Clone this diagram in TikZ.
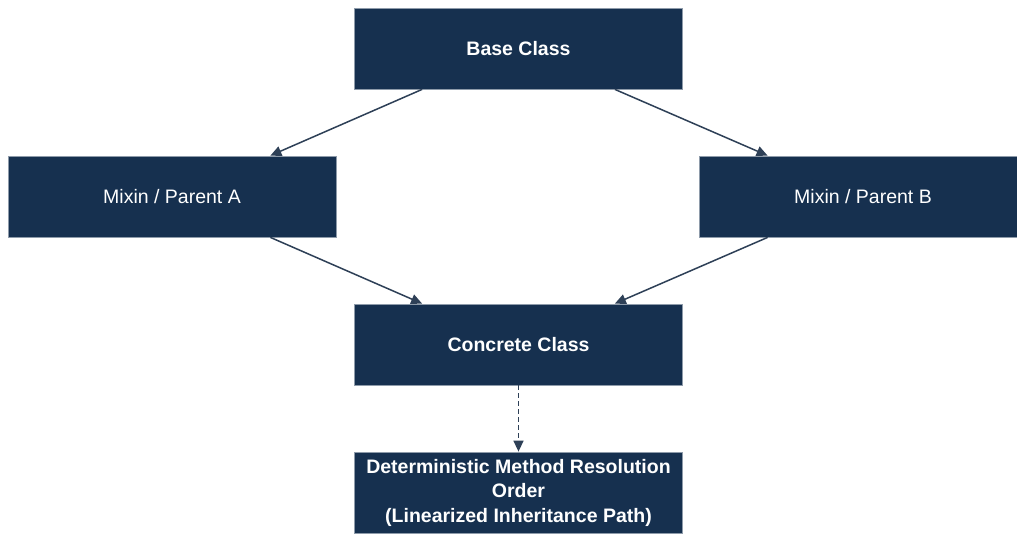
\documentclass[tikz,border=0pt]{standalone}
\usepackage{fontspec}
\setmainfont{Liberation Sans}
\usetikzlibrary{arrows.meta,positioning,calc,shapes.geometric}
\definecolor{navy}{HTML}{16304F}
\definecolor{edgegrey}{HTML}{8E9BAA}
\definecolor{linecol}{HTML}{2E4057}
\tikzstyle{classbox} = [rectangle, minimum width=328pt, minimum height=81pt, inner sep=0pt, text centered, align=center, draw=edgegrey, line width=0.8pt, fill=navy, text=white, font=\fontsize{19.5}{24.5}\selectfont]
\tikzstyle{arrow} = [draw=linecol, line width=1.5pt, -{Triangle[length=11pt,width=10pt]}]
\tikzstyle{dasharrow} = [arrow, dash pattern=on 5pt off 3pt]

\begin{document}
\begin{tikzpicture}[node distance=148pt]
\clip (-518.5pt,48.5pt) rectangle (498.5pt,-484.5pt);
\fill[white] (-518.5pt,48.5pt) rectangle (498.5pt,-484.5pt);

\node (base) [classbox] {\bfseries Base Class};
\node (mixa) [classbox, below of=base, xshift=-346.5pt] {Mixin / Parent A};
\node (mixb) [classbox, below of=base, xshift=344.5pt] {Mixin / Parent B};
\node (concrete) [classbox, below of=mixa, xshift=346.5pt] {\bfseries Concrete Class};
\node (mro) [classbox, below of=concrete] {\bfseries Deterministic Method Resolution\\\bfseries Order\\\bfseries (Linearized Inheritance Path)};

\draw [arrow] ([xshift=68pt]base.south west) -- ([xshift=-66pt]mixa.north east);
\draw [arrow] ([xshift=-68pt]base.south east) -- ([xshift=69pt]mixb.north west);
\draw [arrow] ([xshift=-66pt]mixa.south east) -- ([xshift=68pt]concrete.north west);
\draw [arrow] ([xshift=69pt]mixb.south west) -- ([xshift=-68pt]concrete.north east);
\draw [dasharrow] (concrete) -- (mro);
\end{tikzpicture}
\end{document}
